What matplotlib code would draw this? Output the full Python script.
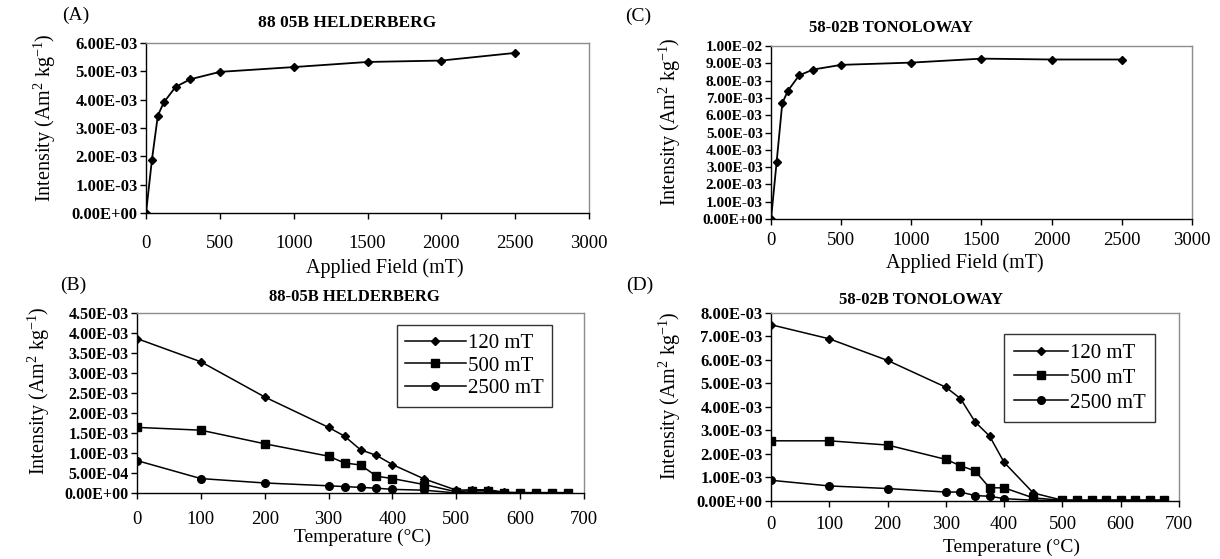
import matplotlib
matplotlib.use('Agg')
import matplotlib.pyplot as plt
from matplotlib.ticker import MultipleLocator, FuncFormatter

plt.rcParams.update({
    'font.family': ['Liberation Serif', 'DejaVu Serif'],
    'mathtext.fontset': 'custom',
    'mathtext.rm': 'Liberation Serif',
    'mathtext.it': 'Liberation Serif:italic',
    'axes.linewidth': 1.0,
})

# IRM acquisition (applied field, mT)
field = [0, 40, 80, 120, 200, 300, 500, 1000, 1500, 2000, 2500]
irm_helderberg = [0.0, 1.88e-3, 3.44e-3, 3.90e-3, 4.45e-3, 4.72e-3, 4.98e-3,
                  5.15e-3, 5.33e-3, 5.38e-3, 5.65e-3]
irm_tonoloway = [0.0, 3.31e-3, 6.69e-3, 7.41e-3, 8.30e-3, 8.64e-3, 8.91e-3,
                 9.04e-3, 9.27e-3, 9.22e-3, 9.22e-3]

# thermal demagnetisation of 3-axis IRM (temperature, C)
temp = [0, 100, 200, 300, 325, 350, 375, 400, 450, 500, 525, 550, 575, 600,
        625, 650, 675]
helder_120 = [3.86e-3, 3.28e-3, 2.40e-3, 1.64e-3, 1.42e-3, 1.08e-3, 0.94e-3,
              0.71e-3, 0.35e-3, 0.07e-3, 0.08e-3, 0.08e-3, 0.02e-3, 0.01e-3,
              0.01e-3, 0.01e-3, 0.01e-3]
helder_500 = [1.64e-3, 1.57e-3, 1.23e-3, 0.92e-3, 0.75e-3, 0.70e-3, 0.42e-3,
              0.36e-3, 0.21e-3, 0.03e-3, 0.06e-3, 0.06e-3, 0.01e-3, 0.0,
              0.0, 0.0, 0.0]
helder_2500 = [0.81e-3, 0.36e-3, 0.25e-3, 0.18e-3, 0.16e-3, 0.14e-3, 0.12e-3,
               0.09e-3, 0.07e-3, 0.0, 0.02e-3, 0.02e-3, 0.0, 0.0, 0.0, 0.0, 0.0]
tono_120 = [7.50e-3, 6.90e-3, 5.98e-3, 4.84e-3, 4.36e-3, 3.37e-3, 2.76e-3,
            1.64e-3, 0.34e-3, 0.03e-3, 0.03e-3, 0.03e-3, 0.03e-3, 0.03e-3,
            0.03e-3, 0.03e-3, 0.03e-3]
tono_500 = [2.56e-3, 2.56e-3, 2.38e-3, 1.77e-3, 1.50e-3, 1.28e-3, 0.56e-3,
            0.56e-3, 0.13e-3, 0.03e-3, 0.03e-3, 0.03e-3, 0.03e-3, 0.03e-3,
            0.03e-3, 0.03e-3, 0.03e-3]
tono_2500 = [0.88e-3, 0.64e-3, 0.53e-3, 0.38e-3, 0.38e-3, 0.23e-3, 0.20e-3,
             0.10e-3, 0.03e-3, 0.02e-3, 0.02e-3, 0.02e-3, 0.02e-3, 0.02e-3,
             0.02e-3, 0.02e-3, 0.02e-3]

legend_labels = ['120 mT', '500 mT', '2500 mT']
markers = ['D', 's', 'o']
msizes = [4.5, 5.5, 5.5]

YLABEL = 'Intensity (Am$^{\\mathregular{2}}$ kg$^{\\mathregular{-1}}$)'

fig = plt.figure(figsize=(12.2, 5.59), dpi=100)
axA = fig.add_axes([0.1197, 0.6190, 0.3631, 0.3041])
axC = fig.add_axes([0.6320, 0.6082, 0.3450, 0.3095])
axB = fig.add_axes([0.1123, 0.1181, 0.3664, 0.3220])
axD = fig.add_axes([0.6320, 0.1038, 0.3344, 0.3363])

sci = FuncFormatter(lambda v, p: f'{v:.2E}')


def style(ax, xmax, xstep, ymax, ystep, ysize, xpad):
    ax.set_xlim(0, xmax)
    ax.set_ylim(0, ymax)
    ax.xaxis.set_major_locator(MultipleLocator(xstep))
    ax.yaxis.set_major_locator(MultipleLocator(ystep))
    ax.yaxis.set_major_formatter(sci)
    for s in ('top', 'right'):
        ax.spines[s].set_color('#8c8c8c')
    for s in ('left', 'bottom'):
        ax.spines[s].set_color('black')
    ax.tick_params(axis='both', direction='out', length=4, width=1)
    ax.tick_params(axis='x', labelsize=13.5, pad=xpad)
    ax.tick_params(axis='y', labelsize=ysize, pad=2)
    for lab in ax.get_yticklabels():
        lab.set_fontweight('bold')


# (A) IRM Helderberg
axA.plot(field, irm_helderberg, '-', color='black', lw=1.3,
         marker='D', ms=4.5)
style(axA, 3000, 500, 6e-3, 1e-3, 12, 12)
axA.set_xlabel('Applied Field (mT)', fontsize=14.5)
axA.xaxis.set_label_coords(0.54, -0.265)
axA.set_ylabel(YLABEL, fontsize=14.5)
axA.yaxis.set_label_coords(-0.198, 0.56)
axA.text(0.453, 1.118, '88 05B HELDERBERG', transform=axA.transAxes,
         ha='center', va='center', fontsize=12.5, fontweight='bold')

# (C) IRM Tonoloway
axC.plot(field, irm_tonoloway, '-', color='black', lw=1.3,
         marker='D', ms=4.5)
style(axC, 3000, 500, 1e-2, 1e-3, 11, 5)
axC.set_xlabel('Applied Field (mT)', fontsize=14.5)
axC.xaxis.set_label_coords(0.46, -0.2)
axC.set_ylabel(YLABEL, fontsize=14.5)
axC.yaxis.set_label_coords(-0.209, 0.56)
axC.text(0.285, 1.104, '58-02B TONOLOWAY', transform=axC.transAxes,
         ha='center', va='center', fontsize=12, fontweight='bold')

# (B) thermal demag Helderberg
for ys, lab, m, s in zip([helder_120, helder_500, helder_2500],
                         legend_labels, markers, msizes):
    axB.plot(temp, ys, '-', color='black', lw=1.1, marker=m, ms=s, label=lab)
style(axB, 700, 100, 4.5e-3, 5e-4, 11.5, 9)
axB.set_xlabel('Temperature (°C)', fontsize=14)
axB.xaxis.set_label_coords(0.505, -0.2)
axB.set_ylabel(YLABEL, fontsize=14.5)
axB.yaxis.set_label_coords(-0.19, 0.57)
axB.text(0.486, 1.089, '88-05B HELDERBERG', transform=axB.transAxes,
         ha='center', va='center', fontsize=12, fontweight='bold')
legB = axB.legend(loc='upper right', bbox_to_anchor=(0.928, 0.933),
                  fontsize=15, frameon=True, fancybox=False, handlelength=2.9,
                  labelspacing=0.15, borderpad=0.4, handletextpad=0.1,
                  borderaxespad=0)
legB.get_frame().set_edgecolor('black')
legB.get_frame().set_linewidth(1.0)

# (D) thermal demag Tonoloway
for ys, lab, m, s in zip([tono_120, tono_500, tono_2500],
                         legend_labels, markers, msizes):
    axD.plot(temp, ys, '-', color='black', lw=1.1, marker=m, ms=s, label=lab)
style(axD, 700, 100, 8e-3, 1e-3, 12, 7)
axD.set_xlabel('Temperature (°C)', fontsize=14)
axD.xaxis.set_label_coords(0.59, -0.2)
axD.set_ylabel(YLABEL, fontsize=14.5)
axD.yaxis.set_label_coords(-0.215, 0.56)
axD.text(0.368, 1.069, '58-02B TONOLOWAY', transform=axD.transAxes,
         ha='center', va='center', fontsize=12, fontweight='bold')
legD = axD.legend(loc='upper right', bbox_to_anchor=(0.941, 0.888),
                  fontsize=15, frameon=True, fancybox=False, handlelength=2.6,
                  labelspacing=0.25, borderpad=0.45, handletextpad=0.1,
                  borderaxespad=0)
legD.get_frame().set_edgecolor('black')
legD.get_frame().set_linewidth(1.0)

# panel letters
fig.text(0.062, 0.973, '(A)', fontsize=14, ha='center', va='center')
fig.text(0.060, 0.490, '(B)', fontsize=14, ha='center', va='center')
fig.text(0.523, 0.970, '(C)', fontsize=14, ha='center', va='center')
fig.text(0.524, 0.490, '(D)', fontsize=14, ha='center', va='center')

fig.savefig('out.png', dpi=100)
